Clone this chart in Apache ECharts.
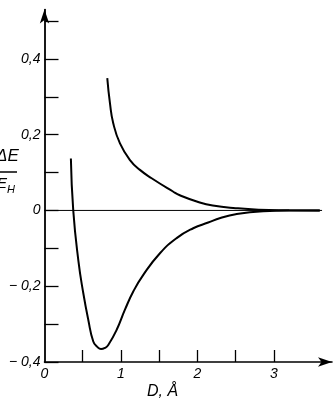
<!DOCTYPE html>
<html><head><meta charset="utf-8">
<script src="https://cdn.jsdelivr.net/npm/echarts@6/dist/echarts.min.js"></script>
<style>html,body{margin:0;padding:0;background:#fff}#c{width:335px;height:408px}</style>
</head><body><div id="c"></div>
<script>
// Distance D (Å) and energy ΔE/E_H
const antiD = [0.821, 0.856, 0.899, 0.987, 1.118, 1.248, 1.401, 1.68, 1.77, 2.03, 2.20, 2.50, 2.80, 3.20, 3.60];
const antiE = [0.349, 0.283, 0.230, 0.177, 0.133, 0.107, 0.085, 0.050, 0.040, 0.021, 0.013, 0.006, 0.002, 0.0005, 0.0];
const bondD = [0.345, 0.376, 0.442, 0.507, 0.573, 0.638, 0.69, 0.739, 0.79, 0.834, 0.944, 1.052, 1.161, 1.292, 1.51, 1.728, 1.945, 2.141, 2.30, 2.50, 2.86, 3.20, 3.60];
const bondE = [0.137, 0.0, -0.131, -0.218, -0.289, -0.346, -0.360, -0.366, -0.363, -0.355, -0.315, -0.262, -0.214, -0.170, -0.113, -0.073, -0.047, -0.032, -0.020, -0.010, -0.002, 0.0, 0.0];
const zeroD = [0, 3.63];
const zeroE = [0, 0];
const xTicks = [0.5, 1, 1.5, 2, 2.5, 3];
const xLabels = [0, 1, 2, 3];
const yTicks = [-0.4, -0.3, -0.2, -0.1, 0, 0.1, 0.2, 0.3, 0.4, 0.5];
const yLabels = [-0.4, -0.2, 0, 0.2, 0.4];

const zip = (a, b) => a.map((v, i) => [v, b[i]]);
const font = {fontFamily: 'Liberation Sans', fontStyle: 'italic', color: '#000'};
const chart = echarts.init(document.getElementById('c'), null, {renderer: 'canvas'});
chart.setOption({
  animation: false,
  backgroundColor: '#fff',
  grid: {left: 44.5, right: 3, top: 9.6, bottom: 46},
  xAxis: {
    type: 'value', min: 0, max: 3.76,
    axisLine: {show: true, onZero: false, symbol: ['none', 'arrow'], symbolSize: [7, 14], lineStyle: {color: '#000', width: 1.6}},
    axisTick: {show: true, inside: true, length: 12, customValues: xTicks, lineStyle: {color: '#000', width: 1.3}},
    axisLabel: {customValues: xLabels, margin: 5, fontSize: 14, ...font, formatter: v => String(v)},
    splitLine: {show: false}
  },
  yAxis: {
    type: 'value', min: -0.4, max: 0.53,
    axisLine: {show: true, onZero: false, symbol: ['none', 'arrow'], symbolSize: [7, 14], lineStyle: {color: '#000', width: 1.8}},
    axisTick: {show: true, inside: true, length: 14, customValues: yTicks, lineStyle: {color: '#000', width: 1.3}},
    axisLabel: {customValues: yLabels, margin: 4, fontSize: 14, ...font,
      formatter: v => { if (Math.abs(v) < 1e-9) return '0'; return (v < 0 ? '− ' : '') + Math.abs(v).toFixed(1).replace('.', ','); }},
    splitLine: {show: false}
  },
  series: [
    {type: 'line', data: zip(zeroD, zeroE), symbol: 'none', lineStyle: {color: '#000', width: 1}, z: 2},
    {type: 'line', data: zip(antiD, antiE), symbol: 'none', smooth: 0.5, lineStyle: {color: '#000', width: 2}, z: 3},
    {type: 'line', data: zip(bondD, bondE), symbol: 'none', smooth: 0.5, lineStyle: {color: '#000', width: 2}, z: 3}
  ],
  graphic: [
    {type: 'text', left: -4, top: 148, style: {text: 'ΔE', font: 'italic 17px "Liberation Sans"', fill: '#000'}},
    {type: 'line', shape: {x1: 0, y1: 172, x2: 17, y2: 172}, style: {stroke: '#000', lineWidth: 1.5}},
    {type: 'text', left: -3, top: 176, style: {text: 'E', font: 'italic 15px "Liberation Sans"', fill: '#000'}},
    {type: 'text', left: 7, top: 184, style: {text: 'H', font: 'italic 11px "Liberation Sans"', fill: '#000'}},
    {type: 'text', left: 147, top: 384, style: {text: 'D, Å', font: 'italic 16px "Liberation Sans"', fill: '#000'}}
  ]
});
</script></body></html>
